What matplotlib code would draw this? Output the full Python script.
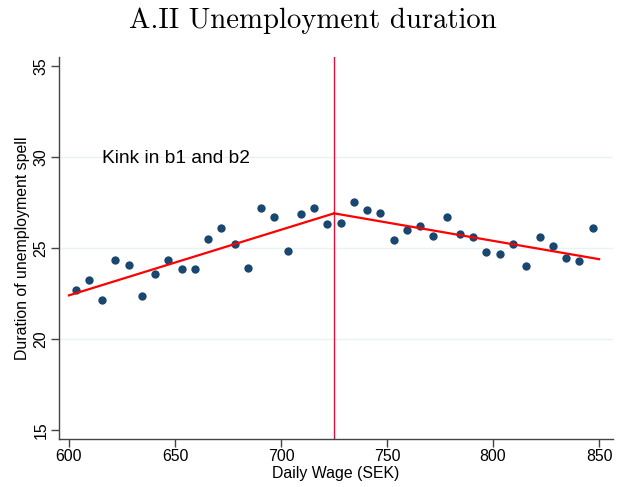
import matplotlib
matplotlib.use('Agg')
import matplotlib.pyplot as plt
import numpy as np

# binned means
wage = [603.1, 609.4, 615.6, 621.9, 628.1, 634.4, 640.6, 646.9, 653.1, 659.4,
        665.6, 671.9, 678.1, 684.4, 690.6, 696.9, 703.1, 709.4, 715.6, 721.9,
        728.1, 734.4, 740.6, 746.9, 753.1, 759.4, 765.6, 771.9, 778.1, 784.4,
        790.6, 796.9, 803.1, 809.4, 815.6, 821.9, 828.1, 834.4, 840.6, 846.9]
duration = [22.70, 23.22, 22.14, 24.34, 24.05, 22.34, 23.57, 24.32, 23.86, 23.84,
            25.50, 26.08, 25.20, 23.90, 27.19, 26.69, 24.82, 26.86, 27.19, 26.32,
            26.36, 27.55, 27.09, 26.93, 25.44, 25.99, 26.19, 25.68, 26.73, 25.75,
            25.59, 24.78, 24.67, 25.22, 24.03, 25.62, 25.13, 24.45, 24.27, 26.12]

fit_left_x = [600, 725]
fit_left_y = [22.40, 26.91]
fit_right_x = [725, 850]
fit_right_y = [26.91, 24.39]

KINK = 725

plt.rcParams['font.family'] = ['Liberation Sans', 'DejaVu Sans']

fig = plt.figure(figsize=(6.33, 4.87), dpi=100)
ax = fig.add_axes([0.0932, 0.0986, 0.875, 0.784])

for yg in [20, 25, 30]:
    ax.axhline(yg, color='#eaf2f3', lw=1.0, zorder=0)

ax.scatter(wage, duration, s=36, color='#1a476f', zorder=3, linewidths=0)
ax.plot(fit_left_x, fit_left_y, color='#ff0000', lw=1.6, zorder=4)
ax.plot(fit_right_x, fit_right_y, color='#ff0000', lw=1.6, zorder=4)
ax.axvline(KINK, color='#e0103c', lw=1.0, zorder=2)

ax.text(615.5, 29.95, 'Kink in b1 and b2', fontsize=13.8, va='center', ha='left')

ax.set_xlim(595.3, 856.5)
ax.set_ylim(14.5, 35.5)
ax.set_xticks([600, 650, 700, 750, 800, 850])
ax.set_yticks([15, 20, 25, 30, 35])
ax.set_yticklabels(['15', '20', '25', '30', '35'], rotation=90, va='center')

for s in ['top', 'right']:
    ax.spines[s].set_visible(False)
for s in ['left', 'bottom']:
    ax.spines[s].set_color('#444444')
    ax.spines[s].set_linewidth(1.0)
ax.tick_params(direction='out', length=5.5, width=1.0, color='#444444',
               labelsize=11.4, pad=2)

ax.set_xlabel('Daily Wage (SEK)', fontsize=11.4, labelpad=1)
ax.set_ylabel('Duration of unemployment spell', fontsize=11.4, labelpad=2.5)

fig.text(0.495, 0.957, 'A.II Unemployment duration', family='cmr10',
         fontsize=20.7, ha='center', va='center')

fig.savefig('out.png', dpi=100)
